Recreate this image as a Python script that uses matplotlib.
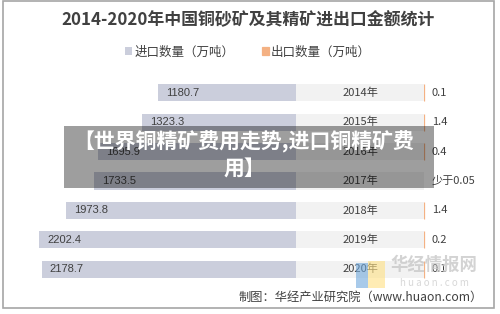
import matplotlib
matplotlib.use("Agg")
import matplotlib.pyplot as plt
from matplotlib.patches import Rectangle

plt.rcParams["font.family"] = ["Noto Sans CJK SC", "DejaVu Sans"]

TITLE = "2014-2020年中国铜砂矿及其精矿进出口金额统计"
years = ["2014年", "2015年", "2016年", "2017年", "2018年", "2019年", "2020年"]
import_vals = [1180.7, 1323.3, 1695.9, 1733.5, 1973.8, 2202.4, 2178.7]
export_vals = [0.1, 1.4, 0.4, 0.0, 1.4, 0.2, 0.1]
export_text = ["0.1", "1.4", "0.4", "少于0.05", "1.4", "0.2", "0.1"]
SERIES = ["进口数量（万吨）", "出口数量（万吨）"]
BANNER = "【世界铜精矿费用走势,进口铜精矿费\n用】"
FOOTER = "制图：华经产业研究院（www.huaon.com）"

C_IMP = "#CBCEDC"
C_EXP = "#F4B183"
C_BAND = "#F2F2F2"
C_TXT = "#404040"

W, H = 500, 314
fig = plt.figure(figsize=(W / 100, H / 100), dpi=100)


def px_axes(x0, x1, y0, y1):
    """axes from pixel box (top-left origin)"""
    return fig.add_axes([x0 / W, 1 - y1 / H, (x1 - x0) / W, (y1 - y0) / H])


ypos = list(range(len(years)))
y_top, y_bot = 78, 284

# left: imports, growing to the left
ax_l = px_axes(30, 296, y_top, y_bot)
b_imp = ax_l.barh(ypos, import_vals, height=0.58, color=C_IMP, label=SERIES[0])
ax_l.set_xlim(2280, 0)
for i, v in enumerate(import_vals):
    ax_l.annotate(f"{v:.1f}", xy=(v, i), xytext=(8, 0), textcoords="offset pixels",
                  ha="left", va="center", fontsize=8, color=C_TXT,
                  family=["Liberation Sans", "DejaVu Sans"])

# middle: year band
ax_m = px_axes(296, 424, y_top, y_bot)
ax_m.barh(ypos, [1] * len(years), height=0.58, color=C_BAND)
ax_m.set_xlim(0, 1)
for i, yr in enumerate(years):
    ax_m.text(0.5, i, yr, ha="center", va="center", fontsize=8, color=C_TXT)

# right: exports
ax_r = px_axes(424, 490, y_top, y_bot)
b_exp = ax_r.barh(ypos, export_vals, height=0.58, color=C_EXP, edgecolor=C_EXP,
                  linewidth=[0.9 if v > 0 else 0 for v in export_vals],
                  label=SERIES[1])
ax_r.set_xlim(0, 566)
for i, t in enumerate(export_text):
    ax_r.annotate(t, xy=(0, i), xytext=(8, 0), textcoords="offset pixels",
                  ha="left", va="center", fontsize=8, color=C_TXT)

for ax in (ax_l, ax_m, ax_r):
    ax.set_ylim(len(years) - 0.5, -0.5)
    ax.axis("off")

fig.text(248 / W, 1 - 20 / H, TITLE, ha="center", va="center", fontsize=12.2,
         fontweight="bold", color=C_TXT)

fig.legend(handles=[b_imp, b_exp], loc="center", bbox_to_anchor=(248 / W, 1 - 52 / H),
           ncol=2, frameon=False, fontsize=9, handlelength=0.55, handleheight=0.55,
           handletextpad=0.2, columnspacing=2.2, labelcolor=C_TXT)

fig.text(483 / W, 1 - 297 / H, FOOTER, ha="right", va="center", fontsize=8.8, color=C_TXT)

# watermark
fig.patches.append(Rectangle((356 / W, 1 - 288 / H), 12 / W, 25 / H, transform=fig.transFigure,
                             color="#6FA8DC", alpha=0.6, lw=0))
fig.patches.append(Rectangle((368 / W, 1 - 288 / H), 17 / W, 27 / H, transform=fig.transFigure,
                             color="#FFE083", alpha=0.6, lw=0))
fig.text(434 / W, 1 - 265 / H, "华经情报网", ha="center", va="center", fontsize=12.5,
         fontweight="bold", color="#C8C8C8", alpha=0.8)
fig.text(434 / W, 1 - 283 / H, "h u a o n . c o m", ha="center", va="center", fontsize=7,
         color="#D8D8D8")

# overlay banner
fig.patches.append(Rectangle((64 / W, 1 - 188 / H), 370 / W, 62 / H, transform=fig.transFigure,
                             color="black", alpha=0.38, lw=0, zorder=5))
fig.text(244 / W, 1 - 155 / H, BANNER, ha="center", va="center", fontsize=15,
         fontweight="bold", color="white", linespacing=1.35, zorder=6)

# outer frame
fig.patches.append(Rectangle((3 / W, 1 - 308 / H), 491 / W, 307 / H, transform=fig.transFigure,
                             fill=False, edgecolor="#A6A6A6", lw=1.2))

fig.savefig("out.png", dpi=100)
